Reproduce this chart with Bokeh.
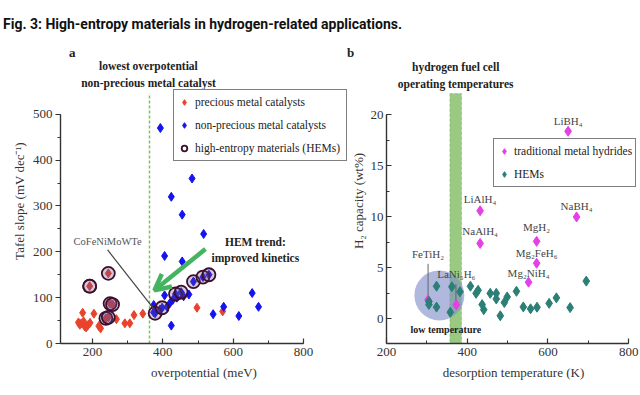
from bokeh.plotting import figure
from bokeh.models import (Range1d, SingleIntervalTicker, BoxAnnotation,
                          Legend, LegendItem, Arrow, OpenHead, Div)
from bokeh.layouts import row, column
from bokeh.embed import file_html
from bokeh.resources import INLINE
from bokeh.core.properties import value

SERIF = "Liberation Serif"

# ---------------- data: panel a ----------------
precious_x = [160, 164, 168, 172, 175, 178, 182, 187, 193, 204, 218, 223, 268, 292, 306, 318, 343, 497, 570]
precious_y = [46, 41, 44, 67, 48, 37, 35, 40, 45, 65, 38, 33, 53, 44, 44, 62, 65, 78, 70]

nonprecious_x = [393, 483, 424, 455, 516, 405, 455, 374, 374, 392, 412, 420, 428, 405, 474, 459,
                 573, 543, 616, 654, 672, 424, 440]
nonprecious_y = [470, 360, 320, 281, 239, 191, 179, 84, 68, 74, 80, 88, 95, 105, 107, 103,
                 80, 64, 60, 110, 80, 39, 100]

hem_x = [192, 245, 250, 257, 238, 245, 378, 398, 436, 452, 487, 514, 531]
hem_y = [125, 153, 87, 85, 55, 57, 66, 78, 108, 112, 135, 145, 150]
hem_kind = ["precious"] * 6 + ["non-precious"] * 7

# ---------------- data: panel b ----------------
hydride_names = ["LiBH\u2084", "LiAlH\u2084", "NaBH\u2084", "NaAlH\u2084", "MgH\u2082",
                 "Mg\u2082FeH\u2086", "Mg\u2082NiH\u2084", "FeTiH\u2082", "LaNi\u2085H\u2086"]
hydride_T = [650, 432, 671, 432, 572, 572, 552, 303, 373]
hydride_cap = [18.4, 10.6, 10.0, 7.4, 7.6, 5.45, 3.6, 1.86, 1.37]

hemb_T = [305, 305, 324, 324, 358, 362, 382, 408, 422, 427, 437, 441, 457, 472, 472, 482,
          492, 499, 522, 539, 557, 573, 603, 621, 655, 695]
hemb_cap = [1.7, 1.4, 3.2, 1.15, 0.65, 3.15, 2.65, 3.2, 2.5, 2.8, 1.4, 0.9, 2.5, 2.5, 1.95, 0.3,
            1.6, 2.15, 2.7, 1.17, 0.98, 1.14, 1.52, 2.06, 1.1, 3.7]

RED = "#e8432d"
BLUE = "#1414f0"
MAROON = "#3d0f2a"
PINK = "#e83ee8"
TEAL = "#2b7f76"
GREEN = "#45b35f"
AX = "#333333"


def style_axes(p, xin, yin):
    for ax in (p.xaxis[0], p.yaxis[0]):
        ax.axis_line_color = AX
        ax.axis_line_width = 1.4
        ax.major_tick_line_color = AX
        ax.minor_tick_line_color = AX
        ax.major_tick_line_width = 1.2
        ax.major_label_text_font = SERIF
        ax.major_label_text_font_size = "13px"
        ax.major_label_text_color = AX
        ax.axis_label_text_font = SERIF
        ax.axis_label_text_font_size = "13px"
        ax.axis_label_text_font_style = "normal"
        ax.axis_label_text_color = AX
    for ax, inward in ((p.xaxis[0], xin), (p.yaxis[0], yin)):
        if inward:
            ax.major_tick_in, ax.major_tick_out = 5, 0
            ax.minor_tick_in, ax.minor_tick_out = 3, 0
        else:
            ax.major_tick_in, ax.major_tick_out = 0, 5
            ax.minor_tick_in, ax.minor_tick_out = 0, 3
    p.xgrid.visible = False
    p.ygrid.visible = False
    p.outline_line_color = None


def bold_text(p, x, y, texts, size):
    p.text(x=x, y=y, text=texts, text_align="center", text_baseline="middle",
           text_font=value(SERIF), text_font_size=size, text_font_style="bold",
           text_color="#222222")


# ================= panel a =================
p1 = figure(width=347, height=337, x_range=Range1d(109, 925), y_range=Range1d(0, 621.7),
            output_backend="svg", toolbar_location=None,
            min_border_left=60, min_border_right=0, min_border_top=0, min_border_bottom=51)
style_axes(p1, True, False)
p1.xaxis.ticker = SingleIntervalTicker(interval=200, num_minor_ticks=2)
p1.yaxis.ticker = SingleIntervalTicker(interval=100, num_minor_ticks=2)
p1.yaxis.bounds = (0, 500)
p1.xaxis.bounds = (109, 800)
p1.xaxis.axis_label = "overpotential (meV)"
p1.yaxis.axis_label = "Tafel slope (mV dec\u207b\u00b9)"
p1.xaxis.major_label_standoff = 4
p1.yaxis.major_label_standoff = 3
p1.yaxis.axis_label_standoff = 3
p1.xaxis.axis_label_standoff = 6

# dashed marker of lowest overpotential
p1.segment(x0=[362], y0=[0], x1=[362], y1=[545.7], line_color="#7cc35a",
           line_dash="3 2", line_width=1.5)

r_prec = p1.scatter(precious_x, precious_y, marker="diamond", size=9, color=RED)
r_non = p1.scatter(nonprecious_x, nonprecious_y, marker="diamond", size=9, color=BLUE)
hx_p = [x for x, k in zip(hem_x, hem_kind) if k == "precious"]
hy_p = [y for y, k in zip(hem_y, hem_kind) if k == "precious"]
hx_n = [x for x, k in zip(hem_x, hem_kind) if k != "precious"]
hy_n = [y for y, k in zip(hem_y, hem_kind) if k != "precious"]
p1.scatter(hx_p, hy_p, marker="diamond", size=9, color=RED)
p1.scatter(hx_n, hy_n, marker="diamond", size=9, color=BLUE)
p1.scatter(hem_x, hem_y, marker="circle", size=13, fill_color="#6a4c93", fill_alpha=0.3,
           line_color=MAROON, line_width=1.8)
# open ring used for the legend entry (drawn on top of the first HEM ring)
r_hem_leg = p1.scatter(hem_x[:1], hem_y[:1], marker="circle", size=13, fill_color=None,
                       line_color=MAROON, line_width=1.8)

p1.segment(x0=[243], y0=[204], x1=[376], y1=[74], line_color="#444444", line_width=1.2)
p1.text(x=[243], y=[222], text=["CoFeNiMoWTe"], text_align="center", text_baseline="middle",
        text_font=value(SERIF), text_font_size="10.5px", text_color="#555555")

p1.add_layout(Arrow(end=OpenHead(line_color=GREEN, line_width=4.5, size=16),
                    x_start=521, y_start=206, x_end=376, y_end=116,
                    line_color=GREEN, line_width=4.5))
bold_text(p1, [663, 663], [222, 187], ["HEM trend:", "improved kinetics"], "11.5px")
bold_text(p1, [359, 359], [606, 569], ["lowest overpotential", "non-precious metal catalyst"],
          "11.5px")

leg1 = Legend(items=[LegendItem(label="precious metal catalysts", renderers=[r_prec]),
                     LegendItem(label="non-precious metal catalysts", renderers=[r_non]),
                     LegendItem(label="high-entropy materials (HEMs)", renderers=[r_hem_leg])],
              location=(113, 182), border_line_color="black", border_line_width=1.5,
              label_text_font=SERIF, label_text_font_size="11.5px", label_text_color="#222222",
              glyph_width=14, glyph_height=18, label_height=18, spacing=5, padding=3,
              margin=0, label_standoff=4, label_width=148, background_fill_alpha=1)
p1.add_layout(leg1)

# ================= panel b =================
p2 = figure(width=293, height=337, x_range=Range1d(200, 829.4), y_range=Range1d(-2.42, 25.54),
            output_backend="svg", toolbar_location=None,
            min_border_left=36, min_border_right=0, min_border_top=0, min_border_bottom=52)
style_axes(p2, True, True)
p2.xaxis.ticker = SingleIntervalTicker(interval=200, num_minor_ticks=2)
p2.yaxis.ticker = SingleIntervalTicker(interval=5, num_minor_ticks=2)
p2.yaxis.bounds = (-2.42, 20)
p2.xaxis.bounds = (200, 800)
p2.xaxis.axis_label = "desorption temperature (K)"
p2.yaxis.axis_label = "H\u2082 capacity (wt%)"
p2.xaxis.major_label_standoff = 4
p2.yaxis.major_label_standoff = 3
p2.yaxis.axis_label_standoff = 2
p2.xaxis.axis_label_standoff = 6

p2.add_layout(BoxAnnotation(left=357, right=386, top=22.1, fill_color="#8fc474", fill_alpha=0.9,
                            line_color="#4f8f3a", line_dash="3 2", line_width=1,
                            level="underlay"))
p2.scatter([331], [2.3], marker="circle", size=50, fill_color="#7f8ec8", fill_alpha=0.62,
           line_color=None)

r_hyd = p2.scatter(hydride_T, hydride_cap, marker="diamond", size=10, color=PINK)
r_hemb = p2.scatter(hemb_T, hemb_cap, marker="diamond", size=10, color=TEAL)

label_dy = [-10, -12, -11, -12, -14, -10, -9, -46, -31]
p2.text(x=hydride_T, y=hydride_cap, text=hydride_names, y_offset=label_dy,
        text_align="center", text_baseline="middle", text_font=value(SERIF),
        text_font_size="11px", text_color="#444444")
p2.segment(x0=[303, 372], y0=[5.4, 3.4], x1=[303, 372], y1=[2.35, 1.8],
           line_color="#666666", line_width=1)
bold_text(p2, [347], [-1.05], ["low temperature"], "10px")
bold_text(p2, [371.5, 371.5], [24.66, 23.05], ["hydrogen fuel cell", "operating temperatures"],
          "11.5px")

leg2 = Legend(items=[LegendItem(label="traditional metal hydrides", renderers=[r_hyd]),
                     LegendItem(label="HEMs", renderers=[r_hemb])],
              location=(107, 156), border_line_color="black", border_line_width=1.5,
              label_text_font=SERIF, label_text_font_size="11.5px", label_text_color="#222222",
              glyph_width=14, glyph_height=18, label_height=18, spacing=5, padding=3,
              margin=0, label_standoff=3, label_width=110, background_fill_alpha=1)
p2.add_layout(leg2)

header = Div(text=(
    '<div style="position:relative;width:640px;height:58px;">'
    '<div style="position:absolute;left:3px;top:15px;font-family:Roboto;font-size:14px;'
    'font-weight:bold;line-height:18px;white-space:nowrap;color:#111;">'
    'Fig. 3: High-entropy materials in hydrogen-related applications.</div>'
    '<div style="position:absolute;left:69px;top:45px;font-family:\'Liberation Serif\';'
    'font-size:13px;font-weight:bold;line-height:16px;color:#222;">a</div>'
    '<div style="position:absolute;left:347px;top:45px;font-family:\'Liberation Serif\';'
    'font-size:13px;font-weight:bold;line-height:16px;color:#222;">b</div>'
    '</div>'), width=640, height=58, margin=0)

layout = column(header, row(p1, p2, spacing=0), spacing=0)
open("out.html", "w").write(file_html(layout, INLINE))
